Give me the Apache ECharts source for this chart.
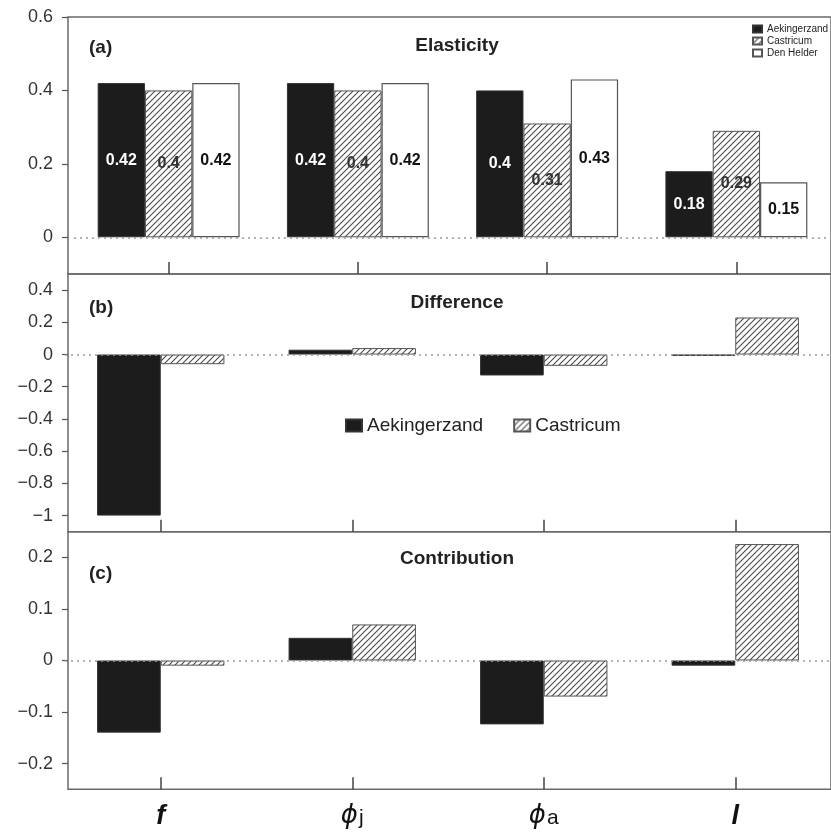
<!DOCTYPE html>
<html><head><meta charset="utf-8">
<script src="https://cdn.jsdelivr.net/npm/echarts@6/dist/echarts.min.js"></script>
<style>html,body{margin:0;padding:0;background:#fff}#c{width:831px;height:832px}</style>
</head><body><div id="c"></div>
<script>
const categories = ['f', 'ϕj', 'ϕa', 'l'];
const elastA = [0.42, 0.42, 0.40, 0.18];
const elastC = [0.40, 0.40, 0.31, 0.29];
const elastD = [0.42, 0.42, 0.43, 0.15];
const diffA = [-1.0, 0.03, -0.13, -0.008];
const diffC = [-0.06, 0.04, -0.07, 0.23];
const contA = [-0.14, 0.044, -0.124, -0.01];
const contC = [-0.01, 0.07, -0.07, 0.226];
const ticksA = [0, 0.2, 0.4, 0.6];
const ticksB = [-1, -0.8, -0.6, -0.4, -0.2, 0, 0.2, 0.4];
const ticksC = [-0.2, -0.1, 0, 0.1, 0.2];

const FF = "'Liberation Sans', Arial, Helvetica, sans-serif";

function hatch(size, color) {
  const c = document.createElement('canvas');
  c.width = c.height = size;
  const g = c.getContext('2d');
  g.fillStyle = '#fff'; g.fillRect(0, 0, size, size);
  g.strokeStyle = color; g.lineWidth = 1.1;
  g.beginPath();
  g.moveTo(0, size); g.lineTo(size, 0);
  g.moveTo(-1, 1); g.lineTo(1, -1);
  g.moveTo(size - 1, size + 1); g.lineTo(size + 1, size - 1);
  g.stroke();
  return { image: c, repeat: 'repeat' };
}
const HATCH = hatch(6, '#4a4a4a');
const styleBlack = { color: '#1c1c1c', borderColor: '#333', borderWidth: 1 };
const styleHatch = { color: HATCH, borderColor: '#555', borderWidth: 1 };
const styleWhite = { color: '#fff', borderColor: '#555', borderWidth: 1.2 };

function fmtNum(v) { return v < 0 ? '\u2212' + String(Math.abs(v)) : String(v); }

const zeroLine = {
  silent: true, symbol: 'none', z: 6,
  label: { show: false },
  lineStyle: { type: [2, 4], color: '#999', width: 1.5 },
  data: [{ yAxis: 0 }]
};

function bar(name, data, idx, style, opts) {
  return Object.assign({
    type: 'bar', name: name, data: data,
    xAxisIndex: idx, yAxisIndex: idx,
    itemStyle: style, barGap: '0%'
  }, opts || {});
}
function lbl(color) {
  return { show: true, position: 'inside', color: color, fontFamily: FF, fontWeight: 'bold', fontSize: 16 };
}

function xAx(idx, showLabel) {
  return {
    type: 'category', gridIndex: idx, data: categories, position: 'bottom',
    axisLine: { show: false, onZero: false },
    axisTick: { show: true, inside: true, length: 12, alignWithLabel: true, lineStyle: { color: '#444', width: 1.5 } },
    axisLabel: showLabel ? {
      show: true, margin: 14, interval: 0,
      formatter: v => v.length > 1 ? '{it|' + v[0] + '}{sm|' + v.slice(1) + '}' : '{bi|' + v + '}',
      rich: {
        it: { fontFamily: "'DejaVu Sans', " + FF, fontStyle: 'italic', fontSize: 26, color: '#111' },
        bi: { fontFamily: FF, fontStyle: 'italic', fontWeight: 'bold', fontSize: 27, color: '#111' },
        sm: { fontFamily: FF, fontSize: 21, color: '#111', padding: [4, 0, 0, 1] }
      }
    } : { show: false },
    splitLine: { show: false }
  };
}
function yAx(idx, min, max, ticks, offset) {
  return {
    type: 'value', gridIndex: idx, min: min, max: max, offset: offset,
    axisLine: { show: false },
    axisTick: { show: true, length: 6, customValues: ticks, lineStyle: { color: '#555', width: 1.2 } },
    axisLabel: { customValues: ticks, margin: 15, fontFamily: FF, fontSize: 18, color: '#333', formatter: fmtNum },
    splitLine: { show: false }
  };
}
function hiddenX(idx) { return { type: 'value', gridIndex: idx, show: false }; }
function hiddenY(idx) { return { type: 'value', gridIndex: idx, show: false }; }

const frame = { show: true, borderColor: '#6a6a6a', borderWidth: 1.5, backgroundColor: 'rgba(0,0,0,0)' };
const tStyle = { fontFamily: FF, fontWeight: 'bold', fontSize: 19, color: '#222' };

const option = {
  animation: false,
  backgroundColor: '#fff',
  title: [
    { text: 'Elasticity', left: 452, top: 31, textAlign: 'center', textStyle: tStyle },
    { text: '(a)', left: 84, top: 33, textStyle: tStyle },
    { text: 'Difference', left: 452, top: 288, textAlign: 'center', textStyle: tStyle },
    { text: '(b)', left: 84, top: 293, textStyle: tStyle },
    { text: 'Contribution', left: 452, top: 544, textAlign: 'center', textStyle: tStyle },
    { text: '(c)', left: 84, top: 559, textStyle: tStyle }
  ],
  legend: [
    { data: ['Aekingerzand', 'Castricum', 'Den Helder'], orient: 'vertical', left: 752, top: 24,
      itemWidth: 9, itemHeight: 7, itemGap: 2, padding: 0, icon: 'rect', selectedMode: false,
      textStyle: { fontFamily: FF, fontSize: 10, color: '#222' } },
    { data: ['Aekingerzand', 'Castricum'], orient: 'horizontal', left: 345, top: 416,
      itemWidth: 16, itemHeight: 12, itemGap: 30, padding: 0, icon: 'rect', selectedMode: false,
      textStyle: { fontFamily: FF, fontSize: 19, color: '#222' } }
  ],
  grid: [
    { left: 74, top: 17, width: 760, height: 257, show: false },
    { left: 65, top: 274, width: 776, height: 257.7, show: false },
    { left: 65, top: 531.7, width: 776, height: 257.6, show: false },
    Object.assign({ left: 68, top: 17, width: 820, height: 257 }, frame),
    Object.assign({ left: 68, top: 274, width: 820, height: 257.7 }, frame),
    Object.assign({ left: 68, top: 531.7, width: 820, height: 257.6 }, frame)
  ],
  xAxis: [xAx(0, false), xAx(1, false), xAx(2, true), hiddenX(3), hiddenX(4), hiddenX(5)],
  yAxis: [yAx(0, -0.1, 0.6, ticksA, 6), yAx(1, -1.1, 0.5, ticksB, -3), yAx(2, -0.25, 0.25, ticksC, -3),
          hiddenY(3), hiddenY(4), hiddenY(5)],
  series: [
    bar('Aekingerzand', elastA, 0, styleBlack, { barCategoryGap: '25%', label: lbl('#fff') }),
    bar('Castricum', elastC, 0, styleHatch, { barCategoryGap: '25%', label: lbl('#333') }),
    bar('Den Helder', elastD, 0, styleWhite, { barCategoryGap: '25%', label: lbl('#111'), markLine: zeroLine }),
    bar('Aekingerzand', diffA, 1, styleBlack, { barCategoryGap: '33.5%' }),
    bar('Castricum', diffC, 1, styleHatch, { barCategoryGap: '33.5%', markLine: zeroLine }),
    bar('Aekingerzand', contA, 2, styleBlack, { barCategoryGap: '33.5%' }),
    bar('Castricum', contC, 2, styleHatch, { barCategoryGap: '33.5%', markLine: zeroLine })
  ]
};
const chart = echarts.init(document.getElementById('c'), null, { renderer: 'canvas' });
chart.setOption(option);
</script></body></html>
